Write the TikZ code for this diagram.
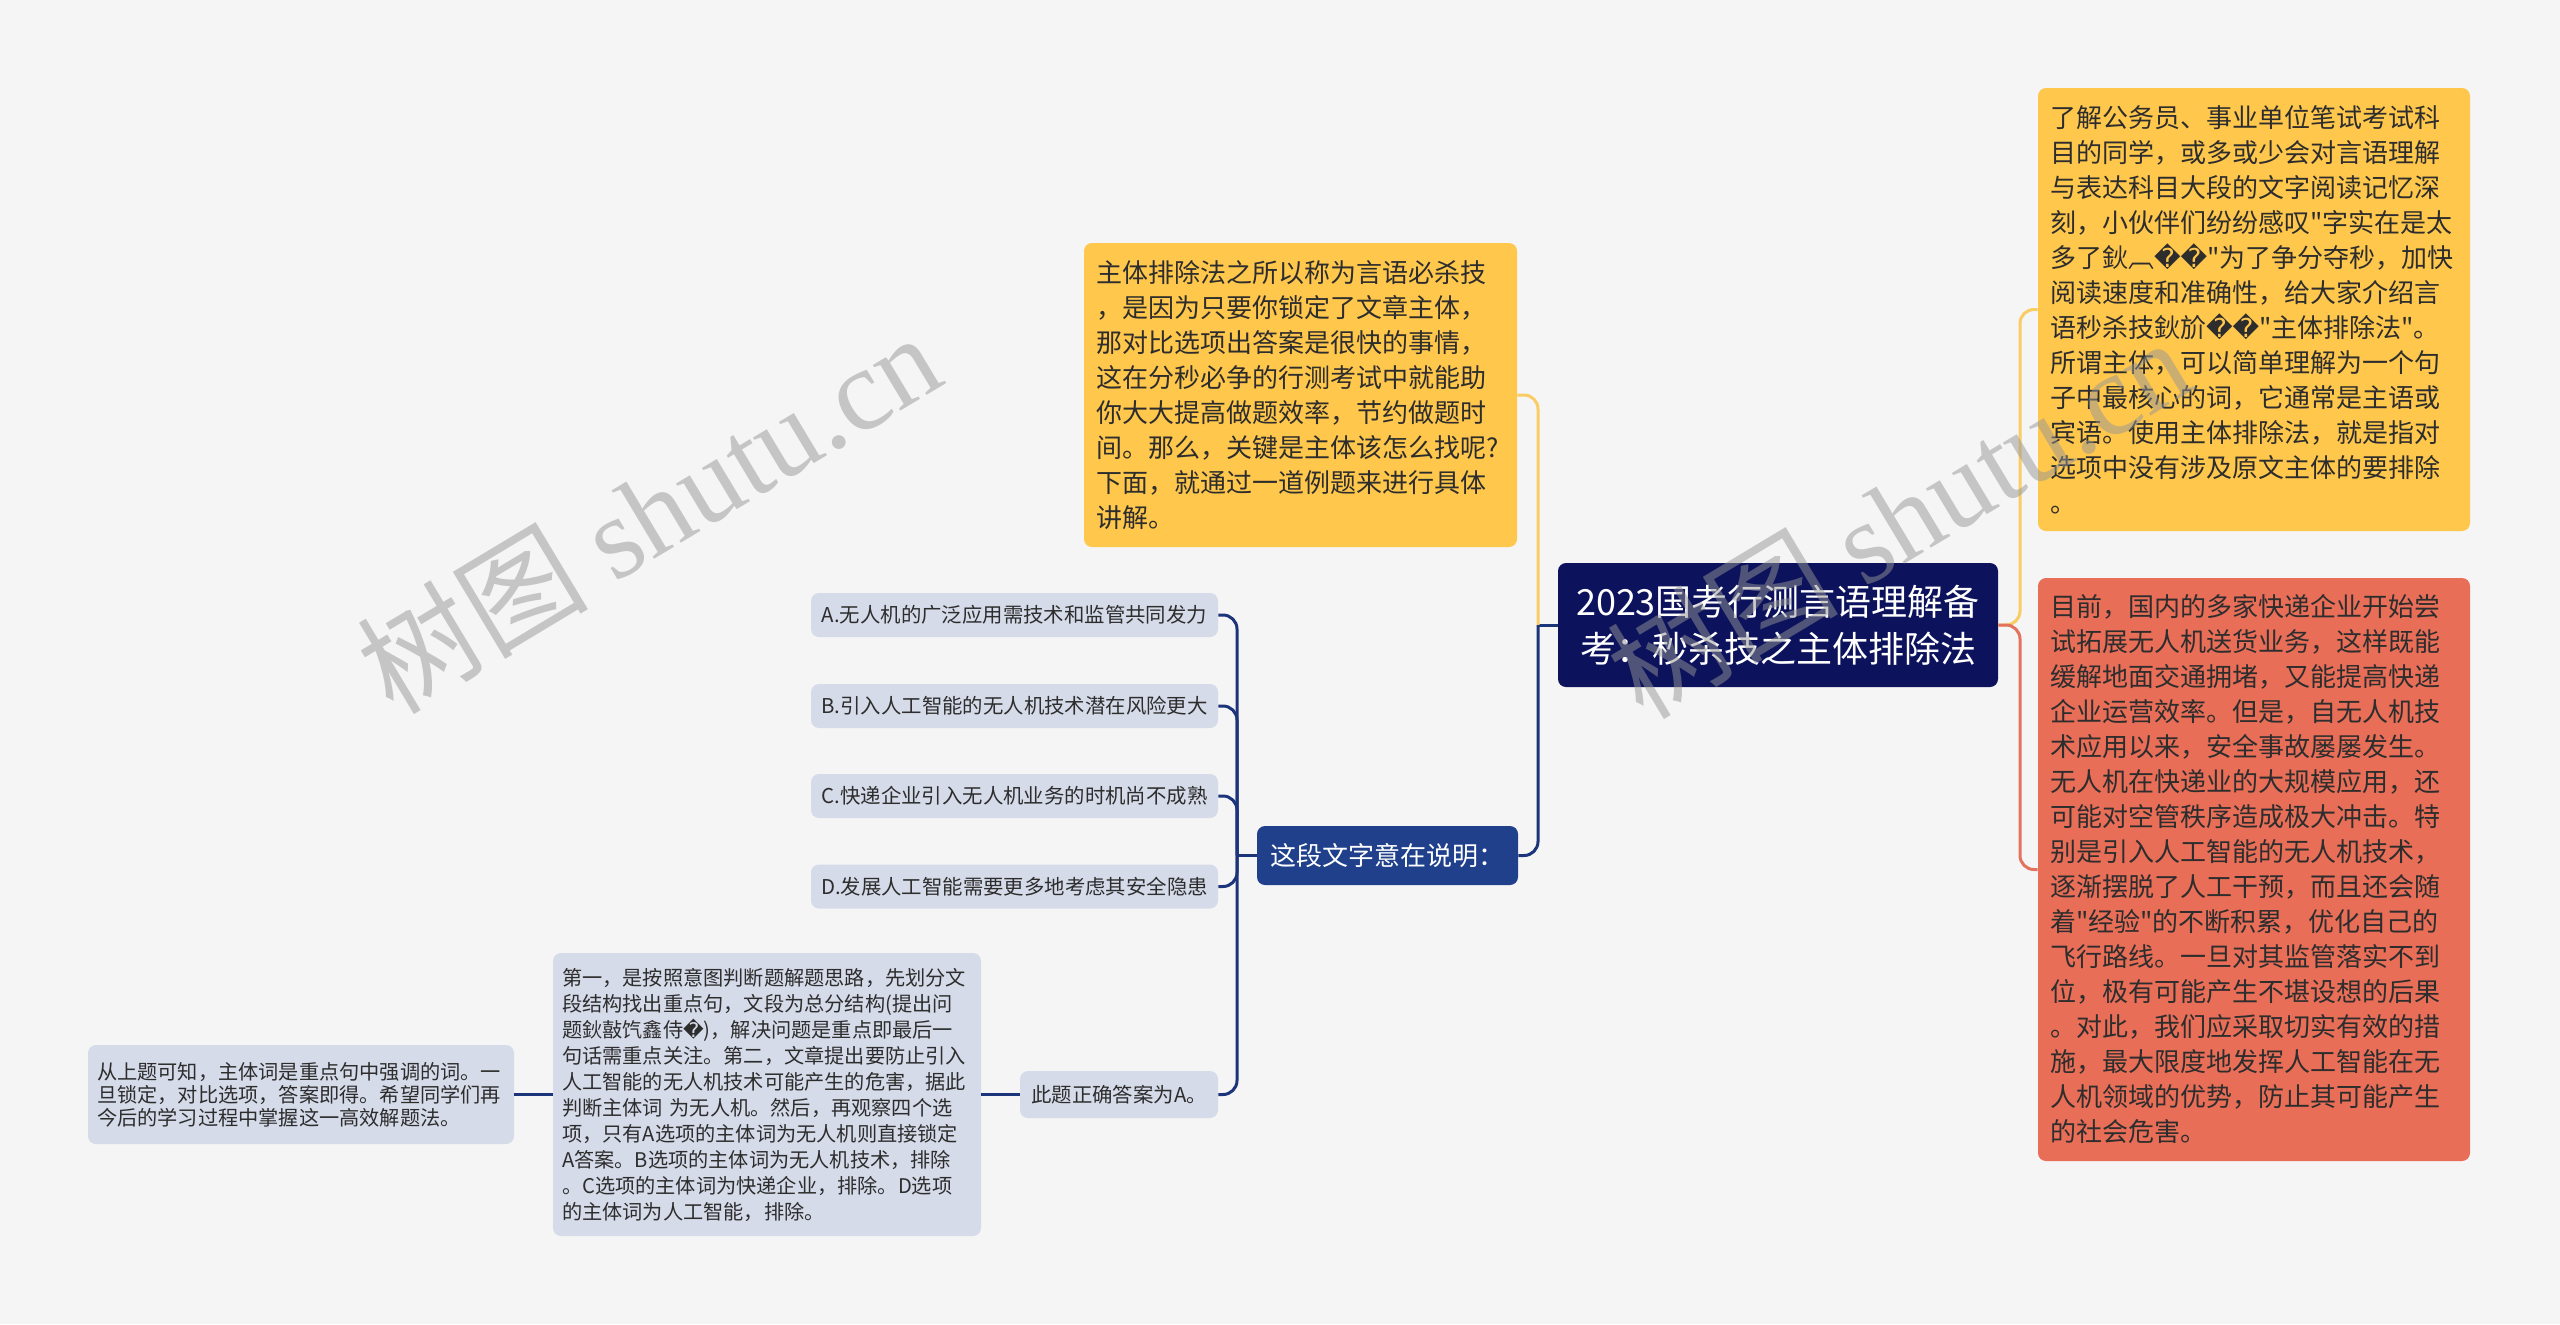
\documentclass[tikz,border=0pt]{standalone}
\usepackage{fontspec}
\setmainfont{Noto Sans CJK SC}[Ligatures=TeXOff]
\newfontfamily\dvfont{DejaVu Sans}
\newfontfamily\wmfont{Liberation Serif}
\usepackage{tikz}
\newcommand\bad{{\dvfont\symbol{"FFFD}}}
\definecolor{bgcol}{RGB}{245,245,245}
\definecolor{inkcol}{RGB}{45,45,45}
\definecolor{rootcol}{RGB}{12,18,92}
\definecolor{askcol}{RGB}{32,64,140}
\definecolor{optcol}{RGB}{214,219,234}
\definecolor{yelcol}{RGB}{255,199,76}
\definecolor{redcol}{RGB}{232,110,88}
\definecolor{navyline}{RGB}{28,52,122}
\definecolor{yelline}{RGB}{250,205,100}
\definecolor{redline}{RGB}{226,115,95}
\definecolor{wmcol}{RGB}{150,150,150}
\tikzset{card/.style={rounded corners=4pt, inner ysep=0pt, text=inkcol},
  root/.style={card, fill=rootcol, text=white, minimum width=220pt, minimum height=62pt,
      align=center, font=\fontsize{18pt}{23.5pt}\selectfont},
  yelbox/.style={card, fill=yelcol, align=left, inner xsep=6pt, text width=204.5pt,
      font=\fontsize{13pt}{17.5pt}\selectfont},
  redbox/.style={yelbox, fill=redcol, inner xsep=6pt, text width=204pt},
  askbox/.style={card, fill=askcol, text=white, minimum width=130.5pt, minimum height=29.5pt,
      font=\fontsize{13pt}{16pt}\selectfont},
  optbox/.style={card, fill=optcol, minimum width=203.5pt, minimum height=22pt,
      font=\fontsize{10.2pt}{12pt}\selectfont},
  notebox/.style={card, fill=optcol, align=left, inner xsep=4.5pt,
      font=\fontsize{10.1pt}{13pt}\selectfont},
  link/.style={line width=1.5pt, rounded corners=7pt},
  wm/.style={rotate=31, text=wmcol, text opacity=0.5, font=\fontsize{58pt}{58pt}\selectfont}}

\begin{document}
\begin{tikzpicture}[x=0.5pt, y=-0.5pt]
    \useasboundingbox (0,0) rectangle (2560,1324);
    \fill[bgcol] (0,0) rectangle (2560,1324);

    \node[root] (root) at (1778,625) {2023国考行测言语理解备\\考：秒杀技之主体排除法};

    \node[yelbox, minimum height=152pt] (intro) at (1300.5,395) {主体排除法之所以称为言语必杀技\\
，是因为只要你锁定了文章主体，\\
那对比选项出答案是很快的事情，\\
这在分秒必争的行测考试中就能助\\
你大大提高做题效率，节约做题时\\
间。那么，关键是主体该怎么找呢?\\
下面，就通过一道例题来进行具体\\
讲解。};

    \node[yelbox, text width=204pt, minimum height=221.5pt] (bg) at (2254,309.5) {了解公务员、事业单位笔试考试科\\
目的同学，或多或少会对言语理解\\
与表达科目大段的文字阅读记忆深\\
刻，小伙伴们纷纷感叹"字实在是太\\
多了鈥︹\bad\bad"为了争分夺秒，加快\\
阅读速度和准确性，给大家介绍言\\
语秒杀技鈥斺\bad\bad"主体排除法"。\\
所谓主体，可以简单理解为一个句\\
子中最核心的词，它通常是主语或\\
宾语。使用主体排除法，就是指对\\
选项中没有涉及原文主体的要排除\\
。};

    \node[redbox, minimum height=291.5pt] (news) at (2254,869.5) {目前，国内的多家快递企业开始尝\\
试拓展无人机送货业务，这样既能\\
缓解地面交通拥堵，又能提高快递\\
企业运营效率。但是，自无人机技\\
术应用以来，安全事故屡屡发生。\\
无人机在快递业的大规模应用，还\\
可能对空管秩序造成极大冲击。特\\
别是引入人工智能的无人机技术，\\
逐渐摆脱了人工干预，而且还会随\\
着"经验"的不断积累，优化自己的\\
飞行路线。一旦对其监管落实不到\\
位，极有可能产生不堪设想的后果\\
。对此，我们应采取切实有效的措\\
施，最大限度地发挥人工智能在无\\
人机领域的优势，防止其可能产生\\
的社会危害。};

    \node[askbox] (ask) at (1387.5,855.5) {这段文字意在说明：};

    \node[optbox] (optA) at (1014.5,615) {A.无人机的广泛应用需技术和监管共同发力};
    \node[optbox] (optB) at (1014.5,706) {B.引入人工智能的无人机技术潜在风险更大};
    \node[optbox] (optC) at (1014.5,796) {C.快递企业引入无人机业务的时机尚不成熟};
    \node[optbox] (optD) at (1014.5,886.5) {D.发展人工智能需要更多地考虑其安全隐患};
    \node[optbox, minimum width=99pt, minimum height=23.5pt] (ans) at (1119,1094.5) {此题正确答案为A。};

    \node[notebox, text width=205pt, minimum height=141.5pt] (expl) at (767,1094.5) {第一，是按照意图判断题解题思路，先划分文\\
段结构找出重点句，文段为总分结构(提出问\\
题鈥敼饩鑫侍\bad)，解决问题是重点即最后一\\
句话需重点关注。第二，文章提出要防止引入\\
人工智能的无人机技术可能产生的危害，据此\\
判断主体词 为无人机。然后，再观察四个选\\
项，只有A选项的主体词为无人机则直接锁定\\
A答案。B选项的主体词为无人机技术，排除\\
。C选项的主体词为快递企业，排除。D选项\\
的主体词为人工智能，排除。};

    \node[notebox, text width=204pt, minimum height=49.5pt, font=\fontsize{10.1pt}{11.4pt}\selectfont] (concl) at (301,1094.5) {从上题可知，主体词是重点句中强调的词。一\\
旦锁定，对比选项，答案即得。希望同学们再\\
今后的学习过程中掌握这一高效解题法。};

    \coordinate (jl) at (1538,625);
    \coordinate (jr) at (2020,625);
    \coordinate (ja) at (1237,855.5);

    \draw[link, navyline] (root.west) -- (jl);
    \draw[link, yelline] (jl) |- (intro.east);
    \draw[link, navyline] (jl) |- (ask.east);
    \draw[link, yelline] (root.east) -- (jr) |- (bg.west);
    \draw[link, redline] (root.east) -- (jr) |- (news.west);
    \draw[link, navyline] (ask.west) -- (ja);
    \draw[link, navyline] (ja) |- (optA.east);
    \draw[link, navyline] (ja) |- (optB.east);
    \draw[link, navyline] (ja) |- (optC.east);
    \draw[link, navyline] (ja) |- (optD.east);
    \draw[link, navyline] (ja) |- (ans.east);
    \draw[link, navyline] (ans.west) -- (expl.east);
    \draw[link, navyline] (expl.west) -- (concl.east);

    \node[wm] (wm1) at (648,512) {树图 {\wmfont shutu.cn}};
    \node[wm] (wm2) at (1898,517) {树图 {\wmfont shutu.cn}};
  \end{tikzpicture}
\end{document}
